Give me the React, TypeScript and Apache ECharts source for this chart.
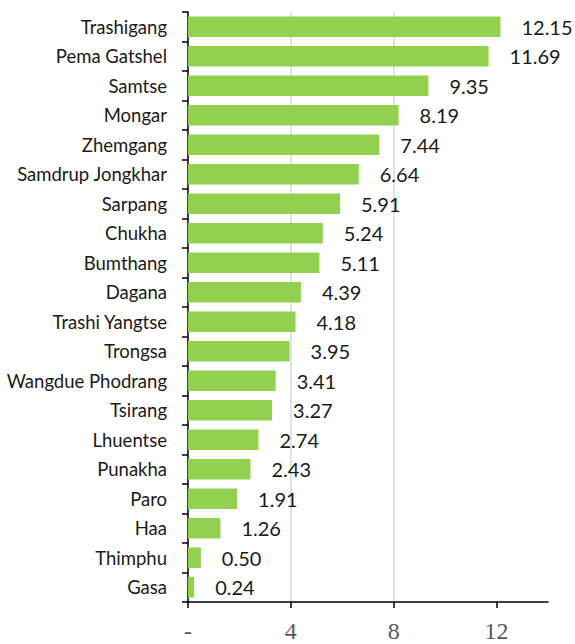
import React, { useEffect, useRef } from "react";
import * as echarts from "echarts";

const categories = [
  "Trashigang", "Pema Gatshel", "Samtse", "Mongar", "Zhemgang", "Samdrup Jongkhar",
  "Sarpang", "Chukha", "Bumthang", "Dagana", "Trashi Yangtse", "Trongsa",
  "Wangdue Phodrang", "Tsirang", "Lhuentse", "Punakha", "Paro", "Haa", "Thimphu", "Gasa",
];
const values = [
  12.15, 11.69, 9.35, 8.19, 7.44, 6.64, 5.91, 5.24, 5.11, 4.39, 4.18, 3.95,
  3.41, 3.27, 2.74, 2.43, 1.91, 1.26, 0.5, 0.24,
];
const xTicks = [0, 4, 8, 12];

const SANS = "Lato, 'Liberation Sans', sans-serif";
const SERIF = "'Liberation Serif', 'DejaVu Serif', serif";

export default function App() {
  const ref = useRef<HTMLDivElement>(null);
  useEffect(() => {
    document.body.style.margin = "0";
    const chart = echarts.init(ref.current!, null, { renderer: "svg" });
    chart.setOption({
      animation: false,
      grid: { left: 188, top: 12, right: 27, bottom: 42, containLabel: false, outerBoundsMode: "none" },
      xAxis: {
        type: "value",
        min: 0,
        max: 14,
        interval: 4,
        axisLine: { show: true, lineStyle: { color: "#000", width: 1.5 } },
        axisTick: { show: true, length: 6, customValues: xTicks, lineStyle: { color: "#000", width: 1.5 } },
        axisLabel: {
          customValues: xTicks,
          margin: 17,
          color: "#595959",
          fontFamily: SERIF,
          fontSize: 24,
          formatter: (v: number) => (v === 0 ? "-" : String(v)),
        },
        splitLine: { show: true, showMinLine: false, showMaxLine: false, lineStyle: { color: "#d9d9d9", width: 1.5 } },
      },
      yAxis: {
        type: "category",
        inverse: true,
        data: categories,
        axisLine: { show: true, lineStyle: { color: "#000", width: 1.5 } },
        axisTick: { show: true, length: 6, lineStyle: { color: "#000", width: 1.5 } },
        axisLabel: { margin: 21, color: "#1a1a1a", fontFamily: SANS, fontSize: 18.5 },
        splitLine: { show: false },
      },
      series: [
        {
          type: "bar",
          data: values,
          barCategoryGap: "30%",
          itemStyle: { color: "#92D050" },
          label: {
            show: true,
            position: "right",
            distance: 21,
            color: "#1a1a1a",
            fontFamily: SANS,
            fontSize: 20,
            formatter: (p: any) => Number(p.value).toFixed(2),
          },
        },
      ],
    });
    return () => chart.dispose();
  }, []);
  return <div ref={ref} style={{ width: 575, height: 644 }} />;
}
